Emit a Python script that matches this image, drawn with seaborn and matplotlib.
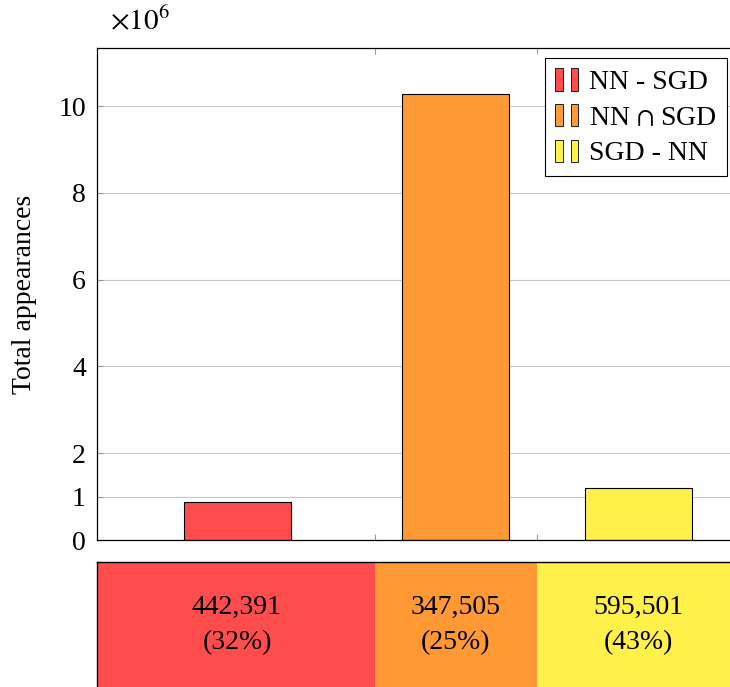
import numpy as np
import pandas as pd
import matplotlib
matplotlib.use('Agg')
import matplotlib.pyplot as plt
from matplotlib.patches import Rectangle
from matplotlib.legend_handler import HandlerTuple
import seaborn as sns

sns.set_style('white')
plt.rcParams['font.family'] = ['Liberation Serif', 'DejaVu Serif']
plt.rcParams['mathtext.fontset'] = 'stix'
plt.rcParams['text.color'] = 'black'
plt.rcParams['axes.labelcolor'] = 'black'

FS = 20

# Data
groups = ['NN - SGD', r'NN $\cap$ SGD', 'SGD - NN']
appearances = [0.885e6, 10.28e6, 1.20e6]
unique_counts = [442391, 347505, 595501]
colors = ['#ff4d4d', '#ff9933', '#fff04a']

# Layout (x in axis units, 1 unit ~ 100 px)
bar_pos = [1.40, 3.585, 5.415]
bar_width = 1.07
separators = [2.78, 4.40]
x_max = 6.41

df = pd.DataFrame({'group': groups, 'pos': bar_pos, 'value': np.array(appearances) / 1e6})

fig = plt.figure(figsize=(7.3, 6.87), dpi=100)
ax = fig.add_axes([97 / 730, (687 - 540) / 687, 641 / 730, 492 / 687])

sns.barplot(data=df, x='pos', y='value', hue='group', hue_order=groups,
            palette=colors, saturation=1, native_scale=True, dodge=False,
            edgecolor='black', linewidth=0.8, legend=False, ax=ax)

# fix bar widths / positions to match the reference
patches = sorted(ax.patches, key=lambda p: p.get_x() + p.get_width() / 2)
for p, c in zip(patches, bar_pos):
    p.set_x(c - bar_width / 2)
    p.set_width(bar_width)

ax.set_xlim(0, x_max)
ax.set_ylim(0, 11.34)
ax.set_yticks([0, 1, 2, 4, 6, 8, 10])
ax.set_yticklabels(['0', '1', '2', '4', '6', '8', '10'], fontsize=FS)
ax.set_xticks(separators)
ax.set_xticklabels([])
ax.set_xlabel('')
ax.set_ylabel('Total appearances', fontsize=FS)
ax.yaxis.set_label_coords(-0.094, 0.5)
ax.tick_params(axis='both', direction='in', length=4, color='#999999', width=0.8,
               labelcolor='black', top=True, left=True, bottom=True, pad=8)
ax.grid(axis='y', color='#c8c8c8', linewidth=0.8)
ax.set_axisbelow(True)
for s in ax.spines.values():
    s.set_color('black')
    s.set_linewidth(0.9)

ax.text(0.02, 1.025, r'$\times10^{6}$', transform=ax.transAxes, fontsize=FS + 1,
        ha='left', va='bottom')

# legend with pgfplots-like double bars
handles = [(Rectangle((0, 0), 1, 1, fc=c, ec='black', lw=0.6),
            Rectangle((0, 0), 1, 1, fc=c, ec='black', lw=0.6)) for c in colors]
ax.legend(handles, groups, handler_map={tuple: HandlerTuple(ndivide=None, pad=0.29)},
          loc='upper right', bbox_to_anchor=(0.991, 0.99), fontsize=FS,
          frameon=True, fancybox=False, framealpha=1, edgecolor='black',
          handlelength=0.83, handleheight=0.86, handletextpad=0.4,
          labelspacing=0.32, borderpad=0.35, borderaxespad=0.2)
ax.get_legend().get_frame().set_linewidth(0.8)

# bottom summary strip with unique counts
ax2 = fig.add_axes([97 / 730, -3 / 687, 641 / 730, 128 / 687])
ax2.set_xlim(0, x_max)
ax2.set_ylim(0, 1)
edges = [0] + separators + [x_max]
total = sum(unique_counts)
for i, (n, c) in enumerate(zip(unique_counts, colors)):
    ax2.axvspan(edges[i], edges[i + 1], color=c, lw=0)
    ax2.text(bar_pos[i], 0.648, f'{n:,}', ha='center', va='center', fontsize=FS)
    ax2.text(bar_pos[i], 0.367, f'({100 * n / total:.0f}%)', ha='center', va='center', fontsize=FS)
ax2.set_xticks([])
ax2.set_yticks([])
for s in ax2.spines.values():
    s.set_color('black')
    s.set_linewidth(1.0)

fig.savefig('out.png', dpi=100)
